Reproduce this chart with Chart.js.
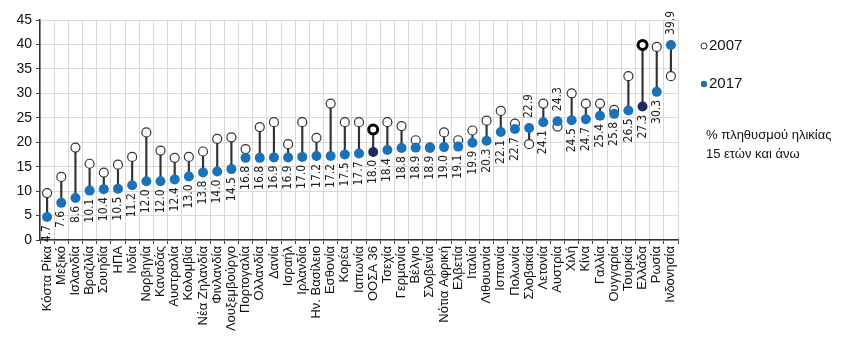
<!DOCTYPE html>
<html lang="el">
<head>
<meta charset="utf-8">
<title>Ποσοστό πληθυσμού 15 ετών και άνω, 2007 και 2017</title>
<script src="https://cdn.jsdelivr.net/npm/chart.js@4.4.1/dist/chart.umd.min.js"></script>
<style>
    html, body { margin: 0; padding: 0; background: #ffffff; }
    #wrap { width: 865px; height: 346px; }
</style>
</head>
<body>
<div id="wrap"><canvas id="chart" width="865" height="346"></canvas></div>
<script>
// Countries, sorted by the 2017 value
const categories = [
    'Κόστα Ρίκα', 'Μεξικό', 'Ισλανδία', 'Βραζιλία', 'Σουηδία', 'ΗΠΑ', 'Ινδία',
    'Νορβηγία', 'Καναδάς', 'Αυστραλία', 'Κολομβία', 'Νέα Ζηλανδία', 'Φινλανδία',
    'Λουξεμβούργο', 'Πορτογαλία', 'Ολλανδία', 'Δανία', 'Ισραήλ', 'Ιρλανδία',
    'Ην. Βασίλειο', 'Εσθονία', 'Κορέα', 'Ιαπωνία', 'ΟΟΣΑ 36', 'Τσεχία', 'Γερμανία',
    'Βέλγιο', 'Σλοβενία', 'Νότια Αφρική', 'Ελβετία', 'Ιταλία', 'Λιθουανία',
    'Ισπανία', 'Πολωνία', 'Σλοβακία', 'Λετονία', 'Αυστρία', 'Χιλή', 'Κίνα',
    'Γαλλία', 'Ουγγαρία', 'Τουρκία', 'Ελλάδα', 'Ρωσία', 'Ινδονησία'
];

const values2017 = [
    4.7, 7.6, 8.6, 10.1, 10.4, 10.5, 11.2, 12.0, 12.0, 12.4, 13.0, 13.8, 14.0,
    14.5, 16.8, 16.8, 16.9, 16.9, 17.0, 17.2, 17.2, 17.5, 17.7, 18.0, 18.4, 18.8,
    18.9, 18.9, 19.0, 19.1, 19.9, 20.3, 22.1, 22.7, 22.9, 24.1, 24.3, 24.5, 24.7,
    25.4, 25.8, 26.5, 27.3, 30.3, 39.9
];

const values2007 = [
    9.6, 12.9, 18.9, 15.6, 13.8, 15.4, 17.0, 22.0, 18.3, 16.8, 17.0, 18.1, 20.7,
    21.0, 18.6, 23.1, 24.1, 19.6, 24.1, 20.9, 27.9, 24.1, 24.1, 22.6, 24.1, 23.3,
    20.4, 18.9, 22.0, 20.4, 22.4, 24.4, 26.4, 23.8, 19.6, 27.9, 23.2, 30.0, 27.9,
    27.9, 26.6, 33.5, 39.9, 39.5, 33.5
];

const yTicks = [0, 5, 10, 15, 20, 25, 30, 35, 40, 45];
const highlighted = ['ΟΟΣΑ 36', 'Ελλάδα'];

const BLUE = '#1b72b8';
const NAVY = '#1d2b5c';
const isHi = i => highlighted.includes(categories[i]);

// Vertical connectors between the two years
const ranges = values2017.map((v, i) => [Math.min(v, values2007[i]), Math.max(v, values2007[i])]);

// Rotated value labels for 2017
const valueLabels = {
    id: 'valueLabels',
    afterDatasetsDraw(chart) {
        const meta = chart.getDatasetMeta(2);
        const ctx = chart.ctx;
        ctx.save();
        ctx.font = '12px "Liberation Sans Narrow", "DejaVu Sans Condensed", sans-serif';
        ctx.fillStyle = '#222';
        ctx.textBaseline = 'middle';
        meta.data.forEach((pt, i) => {
            const above = values2017[i] > values2007[i];
            ctx.save();
            ctx.translate(pt.x, above ? pt.y - 10 : pt.y + 8);
            ctx.rotate(-Math.PI / 2);
            ctx.textAlign = above ? 'left' : 'right';
            ctx.fillText(values2017[i].toFixed(1), 0, 0);
            ctx.restore();
        });
        ctx.restore();
    }
};

// Legend and unit note on the right
const sideLegend = {
    id: 'sideLegend',
    afterDraw(chart) {
        const ctx = chart.ctx;
        ctx.save();
        ctx.lineWidth = 1;
        ctx.strokeStyle = '#333';
        ctx.fillStyle = '#fff';
        ctx.beginPath();
        ctx.arc(704, 46, 3, 0, Math.PI * 2);
        ctx.fill();
        ctx.stroke();
        ctx.fillStyle = BLUE;
        ctx.beginPath();
        ctx.arc(704, 84, 3.2, 0, Math.PI * 2);
        ctx.fill();

        ctx.fillStyle = '#111';
        ctx.textBaseline = 'middle';
        ctx.textAlign = 'left';
        ctx.font = '15px "Liberation Sans", Arial, sans-serif';
        ctx.fillText('2007', 709, 46);
        ctx.fillText('2017', 709, 84);
        ctx.font = '13px "Liberation Sans", Arial, sans-serif';
        ctx.fillText('% πληθυσμού ηλικίας', 706, 135);
        ctx.fillText('15 ετών και άνω', 706, 154);
        ctx.restore();
    }
};

new Chart(document.getElementById('chart'), {
    type: 'bar',
    data: {
        labels: categories,
        datasets: [
            {
                type: 'bar',
                label: 'range',
                data: ranges,
                backgroundColor: '#333',
                barThickness: 1.5,
                order: 3
            },
            {
                type: 'line',
                label: '2007',
                data: values2007,
                showLine: false,
                pointRadius: 4.5,
                pointBackgroundColor: '#fff',
                pointBorderColor: values2007.map((v, i) => isHi(i) ? '#000' : '#333'),
                pointBorderWidth: values2007.map((v, i) => isHi(i) ? 3 : 1.2),
                order: 2
            },
            {
                type: 'line',
                label: '2017',
                data: values2017,
                showLine: false,
                pointRadius: 5,
                pointBackgroundColor: values2017.map((v, i) => isHi(i) ? NAVY : BLUE),
                pointBorderWidth: 0,
                order: 1
            }
        ]
    },
    options: {
        responsive: false,
        devicePixelRatio: 1,
        animation: false,
        layout: { padding: { top: 20, right: 187, bottom: 0, left: 0 } },
        plugins: {
            legend: { display: false },
            tooltip: { enabled: false }
        },
        scales: {
            x: {
                offset: true,
                grid: {
                    offset: true,
                    color: '#d9d9d9',
                    tickColor: '#444',
                    tickLength: 4
                },
                border: { color: '#333', width: 1.5 },
                ticks: {
                    autoSkip: false,
                    maxRotation: 90,
                    minRotation: 90,
                    padding: 2,
                    color: '#111',
                    font: { family: '"Liberation Sans", Arial, sans-serif', size: 13 }
                },
                afterFit(scale) { scale.height = 106; }
            },
            y: {
                min: 0,
                max: 45,
                afterBuildTicks(scale) { scale.ticks = yTicks.map(v => ({ value: v })); },
                grid: {
                    color: '#d9d9d9',
                    tickColor: '#444',
                    tickLength: 4
                },
                border: { color: '#333', width: 1.5 },
                ticks: {
                    padding: 4,
                    color: '#111',
                    font: { family: '"Liberation Sans", Arial, sans-serif', size: 14 }
                },
                afterFit(scale) { scale.width = 40; }
            }
        }
    },
    plugins: [valueLabels, sideLegend]
});
</script>
</body>
</html>
